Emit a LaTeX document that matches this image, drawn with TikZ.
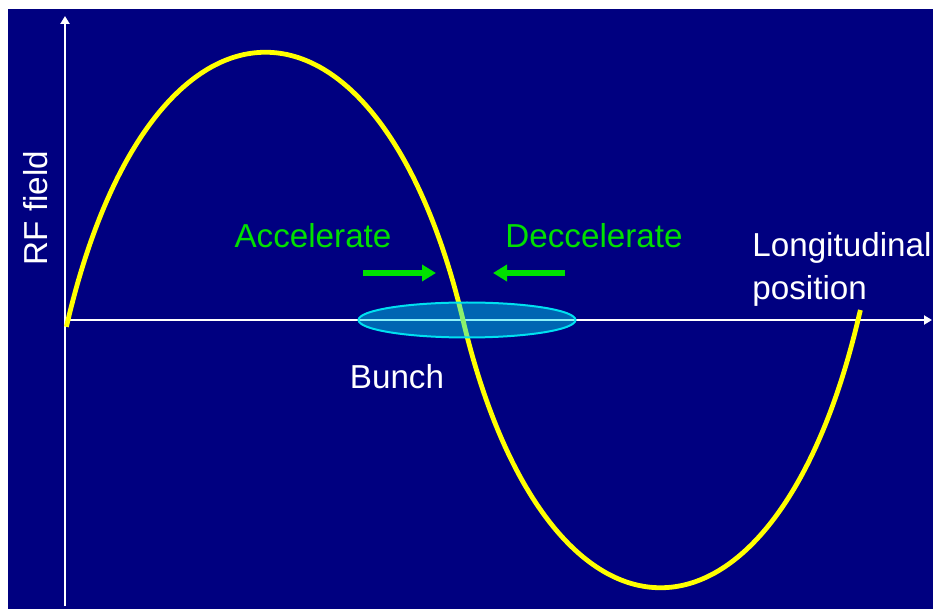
\documentclass[tikz,border=0pt]{standalone}
\usepackage{fontspec}
\setmainfont{Liberation Sans}
\usepackage{tikz}
\usetikzlibrary{arrows.meta,positioning,shapes.geometric}
\definecolor{rfNavy}{HTML}{000080}
\definecolor{rfYellow}{HTML}{FFFF00}
\definecolor{rfGreen}{HTML}{00E000}
\definecolor{rfCyan}{HTML}{00E0F0}

\begin{document}
\begin{tikzpicture}[
    x=0.5pt, y=-0.5pt,
    every node/.style={font=\fontsize{16.6}{21.5}\selectfont, text=white},
    axis/.style={-{Triangle[length=4pt,width=4.5pt]}, line width=1pt, color=white},
    wave/.style={line width=2.4pt, color=rfYellow},
    push/.style={-{Triangle[length=7pt,width=8pt]}, line width=2.6pt, color=rfGreen},
    label/.style={text=rfGreen},
    bunchshape/.style={ellipse, draw=rfCyan, line width=1pt, fill=rfCyan, fill opacity=0.45, draw opacity=1, minimum width=108.5pt, minimum height=17.5pt, inner sep=0pt}
  ]
    \useasboundingbox (0,0) rectangle (933,609);
    \fill[rfNavy] (8,9) rectangle (933,609);

    % axes
    \coordinate (origin) at (65,320);
    \coordinate (ybottom) at (65,606);
    \coordinate (ytop) at (65,16);
    \coordinate (xend) at (932,320);
    \draw[axis] (ybottom) -- (ytop);
    \draw[axis] (origin) -- (xend);

    % RF wave
    \coordinate (z0) at (68,320);
    \coordinate (z1) at (463,320);
    \coordinate (z2) at (858,320);
    \draw[wave] (66.4,326.8) -- (z0)
      .. controls (153,-37) and (378,-37) .. (z1)
      .. controls (548,677) and (773,677) .. (z2) -- (860.4,310);

    % bunch
    \node[bunchshape] (bunch) at (467,320) {};
    \node (bunchlabel) at (397,377) {Bunch};

    % phase focusing
    \node[label] (acc) at (313,236) {Accelerate};
    \node[label] (dec) at (594,236) {Deccelerate};
    \coordinate (accstart) at (363,273);
    \coordinate (accend) at (436,273);
    \coordinate (decstart) at (565,273);
    \coordinate (decend) at (493,273);
    \draw[push] (accstart) -- (accend);
    \draw[push] (decstart) -- (decend);

    % axis labels
    \node[anchor=west, align=left, inner sep=0pt] (xlabel) at (752,269) {Longitudinal\\position};
    \node[rotate=90, inner sep=0pt] (ylabel) at (36,208) {RF field};
  \end{tikzpicture}
\end{document}
